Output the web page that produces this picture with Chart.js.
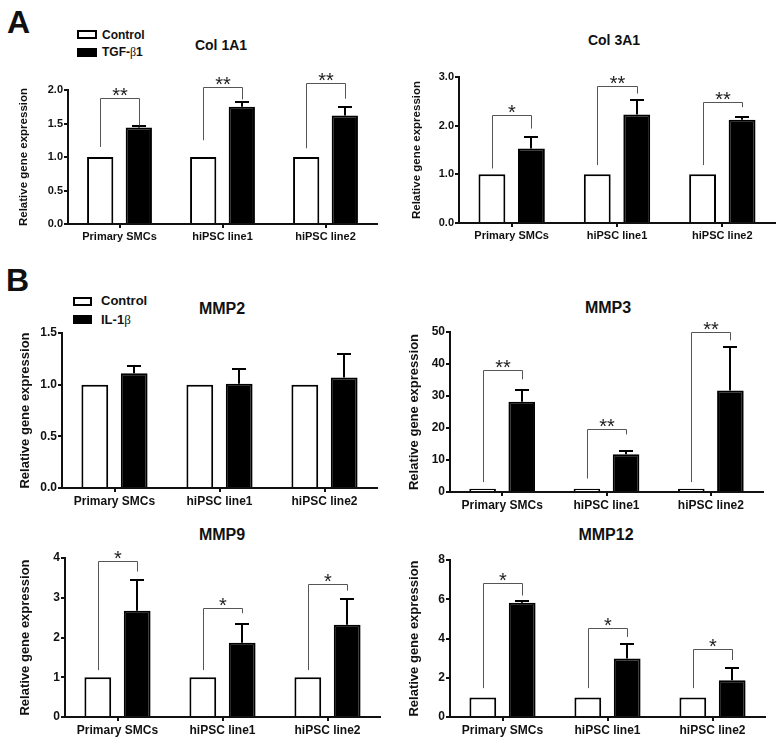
<!DOCTYPE html>
<html>
<head>
<meta charset="utf-8">
<script src="https://cdn.jsdelivr.net/npm/chart.js@4.4.1/dist/chart.umd.min.js"></script>
<style>
body{margin:0;background:#fff;width:776px;height:747px;position:relative;overflow:hidden;font-family:"Liberation Sans",Arial,sans-serif;color:#111}
.wrap{position:absolute}
.t{position:absolute;font-weight:bold;white-space:nowrap;line-height:1}
.c{transform:translateX(-50%)}
.key{position:absolute;box-sizing:border-box;border:2px solid #000;background:#fff}
.key.on{background:#000}
.beta{font-family:"Liberation Serif",serif;font-weight:normal;color:#111}
</style>
</head>
<body>
<div class="t" style="left:7px;top:6px;font-size:32px">A</div>
<div class="t" style="left:6px;top:264px;font-size:32px">B</div>

<div class="key" style="left:77px;top:30px;width:20px;height:9px"></div>
<div class="t" style="left:102px;top:28.6px;font-size:12px">Control</div>
<div class="key on" style="left:77px;top:48px;width:20px;height:9px"></div>
<div class="t" style="left:102px;top:46px;font-size:12px">TGF-<span class="beta">β</span>1</div>

<div class="key" style="left:73px;top:297px;width:19px;height:9px"></div>
<div class="t" style="left:101px;top:293.7px;font-size:13px">Control</div>
<div class="key on" style="left:73px;top:315px;width:19px;height:9px"></div>
<div class="t" style="left:101px;top:313px;font-size:13px">IL-1<span class="beta">β</span></div>

<div class="t c" style="left:221px;top:38px;font-size:14px">Col 1A1</div>
<div class="t c" style="left:614px;top:33px;font-size:14px">Col 3A1</div>
<div class="t c" style="left:222px;top:301px;font-size:16px">MMP2</div>
<div class="t c" style="left:608px;top:300px;font-size:16px">MMP3</div>
<div class="t c" style="left:222px;top:527px;font-size:16px">MMP9</div>
<div class="t c" style="left:606px;top:527px;font-size:16px">MMP12</div>

<script>
// data
const categories=["Primary SMCs","hiPSC line1","hiPSC line2"];
const control=[1,1,1];

const col1a1=[1.44,1.75,1.62];
const col1a1Err=[0.02,0.07,0.12];
const col1a1Sig=[[1.88,1.15,1.47,"**"],[2.05,1.25,1.86,"**"],[2.11,1.13,1.87,"**"]];

const col3a1=[1.53,2.23,2.12];
const col3a1Err=[0.23,0.30,0.05];
const col3a1Sig=[[2.22,1.12,1.94,"*"],[2.81,1.19,2.66,"**"],[2.48,1.19,2.38,"**"]];

const mmp2=[1.11,1.01,1.07];
const mmp2Err=[0.07,0.14,0.23];

const mmp3=[28.2,11.8,31.7];
const mmp3Err=[3.8,1.0,13.7];
const mmp3Sig=[[38,3.1,35.2,"**"],[19.6,4.2,18,"**"],[50,3.1,47.4,"**"]];

const mmp9=[2.67,1.87,2.32];
const mmp9Err=[0.77,0.46,0.66];
const mmp9Sig=[[3.93,1.18,3.66,"*"],[2.75,1.18,2.61,"*"],[3.35,1.18,3.18,"*"]];

const mmp12=[5.82,2.98,1.87];
const mmp12Err=[0.08,0.75,0.64];
const mmp12Sig=[[6.82,1.47,6.19,"*"],[4.56,1.47,4.08,"*"],[3.44,1.47,2.9,"*"]];

Chart.defaults.font.family="'Liberation Sans', Arial, sans-serif";
Chart.defaults.color="#111";

// error bars + significance brackets, placed through the y scale
function marks(p){
 return {id:"marks",afterDatasetsDraw(chart){
  let ctx=chart.ctx, y=chart.scales.y;
  let ctrl=chart.getDatasetMeta(0).data, trt=chart.getDatasetMeta(1).data;
  ctx.save();
  ctx.strokeStyle="#000";ctx.lineWidth=2;
  p.values.forEach((v,i)=>{
   let x=Math.round(trt[i].x), y0=y.getPixelForValue(v), y1=Math.round(y.getPixelForValue(v+p.err[i]));
   ctx.beginPath();
   ctx.moveTo(x,y0);ctx.lineTo(x,y1);
   ctx.moveTo(x-7,y1);ctx.lineTo(x+7,y1);
   ctx.stroke();
  });
  (p.sig||[]).forEach(([top,l,r,label],i)=>{
   let xl=Math.round(ctrl[i].x)+0.5, xr=Math.round(trt[i].x)+0.5, yt=Math.round(y.getPixelForValue(top))+0.5;
   ctx.strokeStyle="#555";ctx.lineWidth=1;
   ctx.beginPath();
   ctx.moveTo(xl,y.getPixelForValue(l));ctx.lineTo(xl,yt);ctx.lineTo(xr,yt);ctx.lineTo(xr,y.getPixelForValue(r));
   ctx.stroke();
   ctx.fillStyle="#222";ctx.font="20px 'Liberation Sans', Arial, sans-serif";
   ctx.textAlign="center";ctx.textBaseline="alphabetic";
   ctx.fillText(label,(xl+xr)/2,yt+3.5);
  });
  ctx.restore();
 }};
}

function panel(p){
 let div=document.createElement("div");
 div.className="wrap";
 div.style.left=p.box[0]+"px";div.style.top=p.box[1]+"px";
 let cv=document.createElement("canvas");
 cv.width=p.box[2];cv.height=p.box[3];
 div.appendChild(cv);document.body.appendChild(div);
 let [l,t,r,b]=p.plot;
 let big=p.big;
 let tickFont={size:big?12:11,weight:"bold"};
 new Chart(cv,{
  type:"bar",
  data:{labels:categories,datasets:[
   {data:control,backgroundColor:"#fff",borderColor:"#000",borderWidth:2,borderSkipped:"start",categoryPercentage:0.75,barPercentage:0.68},
   {data:p.values,backgroundColor:"#000",borderColor:"#000",borderWidth:2,borderSkipped:"start",categoryPercentage:0.75,barPercentage:0.68}
  ]},
  options:{
   responsive:false,animation:false,devicePixelRatio:1,
   layout:{padding:{left:0,top:t-p.box[1],right:p.box[0]+p.box[2]-r,bottom:p.box[1]+p.box[3]-b-20}},
   plugins:{legend:{display:false},tooltip:{enabled:false},title:{display:false}},
   scales:{
    x:{
     grid:{offset:false,drawOnChartArea:false,tickLength:4,color:"#111",lineWidth:2},
     border:{display:true,color:"#111",width:2},
     ticks:{font:tickFont,color:"#111",padding:2,maxRotation:0,autoSkip:false},
     afterFit:s=>{s.height=20}
    },
    y:{
     min:0,max:p.max,
     grid:{drawOnChartArea:false,tickLength:4,color:"#111",lineWidth:2},
     border:{display:true,color:"#111",width:2},
     ticks:{stepSize:p.step,font:tickFont,color:"#111",padding:1,callback:v=>p.dec?v.toFixed(1):v},
     title:{display:true,text:"Relative gene expression",color:"#111",
      font:{size:big?13:11.5,weight:"bold"},
      padding:{top:p.titleX-p.box[0]-(big?13:11.5)*0.6,bottom:0}},
     afterFit:s=>{s.width=l-p.box[0]}
    }
   }
  },
  plugins:[marks(p)]
 });
}

panel({box:[0,0,388,250],plot:[68,90,377,224],values:col1a1,err:col1a1Err,sig:col1a1Sig,max:2,step:0.5,dec:true,titleX:24,big:false});
panel({box:[388,0,388,250],plot:[459,77,775,223],values:col3a1,err:col3a1Err,sig:col3a1Sig,max:3,step:1,dec:true,titleX:417,big:false});
panel({box:[0,252,388,260],plot:[62,333,377,488],values:mmp2,err:mmp2Err,max:1.5,step:0.5,dec:true,titleX:25,big:true});
panel({box:[388,252,388,260],plot:[450,332,763,492],values:mmp3,err:mmp3Err,sig:mmp3Sig,max:50,step:10,dec:false,titleX:414,big:true});
panel({box:[0,505,388,242],plot:[65,558,380,717],values:mmp9,err:mmp9Err,sig:mmp9Sig,max:4,step:1,dec:false,titleX:25,big:true});
panel({box:[388,505,388,242],plot:[450,560,765,717],values:mmp12,err:mmp12Err,sig:mmp12Sig,max:8,step:2,dec:false,titleX:414,big:true});
</script>
</body>
</html>
